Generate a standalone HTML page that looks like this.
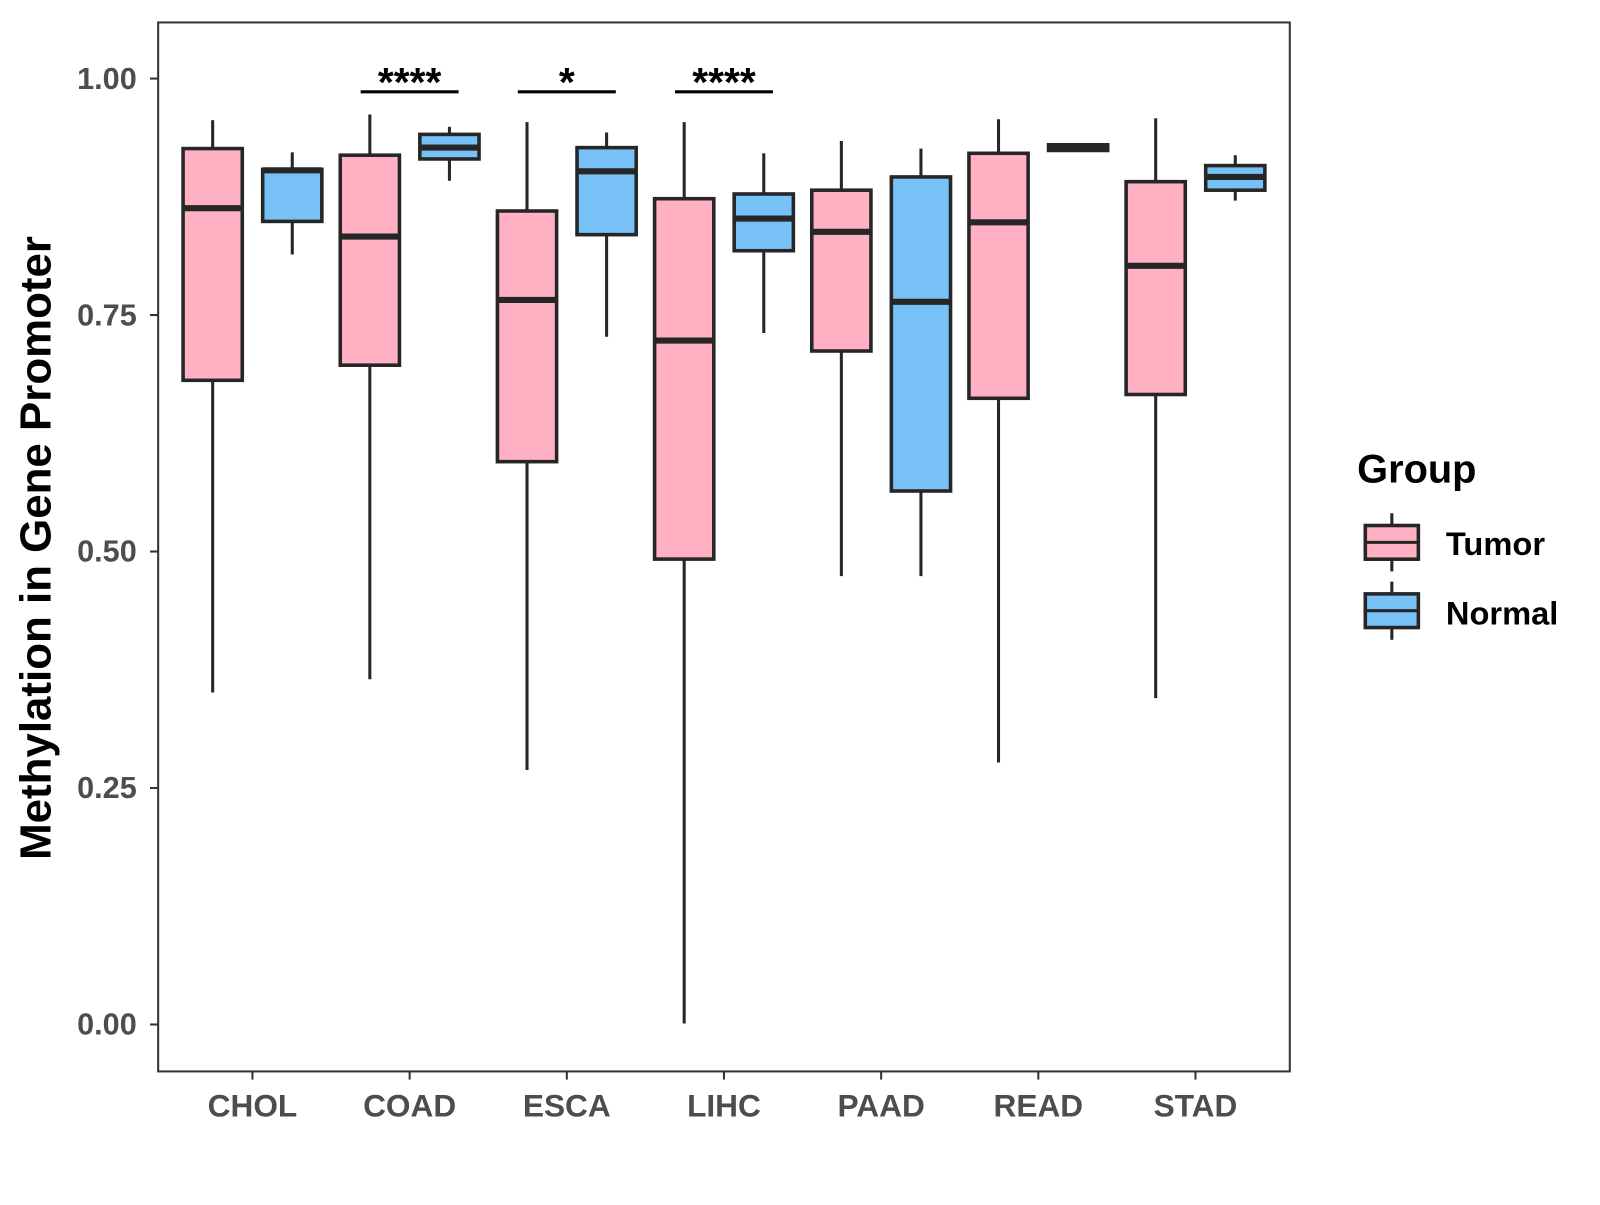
<!DOCTYPE html>
<html><head><meta charset="utf-8"><style>
body{margin:0;background:#fff;}
svg text{font-family:"Liberation Sans",Arial,sans-serif;font-weight:bold;}
</style></head><body>
<svg id="chart" width="1600" height="1200" viewBox="0 0 1568 1176" xmlns="http://www.w3.org/2000/svg">
<rect x="0" y="0" width="1600" height="1200" fill="#fff"/>
<g id="plot"></g>
<text x="38" y="537" transform="rotate(-90 38 537)" text-anchor="middle" font-size="43" dominant-baseline="middle" fill="#000">Methylation in Gene Promoter</text>
<g>
<text x="1330" y="473" font-size="39" fill="#000">Group</text>
<g>
<line x1="1364" y1="503" x2="1364" y2="560" stroke="#262626" stroke-width="3"/>
<rect x="1338" y="515" width="52" height="33" fill="#FFB0C3" stroke="#262626" stroke-width="3.5"/>
<line x1="1338" y1="531.5" x2="1390" y2="531.5" stroke="#262626" stroke-width="3"/>
<text x="1417" y="544" font-size="32" fill="#000">Tumor</text></g>
<g>
<line x1="1364" y1="570" x2="1364" y2="627" stroke="#262626" stroke-width="3"/>
<rect x="1338" y="582" width="52" height="33" fill="#77C1F7" stroke="#262626" stroke-width="3.5"/>
<line x1="1338" y1="598.5" x2="1390" y2="598.5" stroke="#262626" stroke-width="3"/>
<text x="1417" y="612" font-size="32" fill="#000">Normal</text></g>
</g>
</svg>
<script>
const categories=["CHOL","COAD","ESCA","LIHC","PAAD","READ","STAD"];
const tumorMin=[0.351,0.365,0.269,0.001,0.474,0.277,0.345];
const tumorQ1=[0.681,0.697,0.595,0.492,0.712,0.662,0.666];
const tumorMed=[0.863,0.833,0.766,0.723,0.838,0.848,0.802];
const tumorQ3=[0.926,0.919,0.860,0.873,0.882,0.921,0.891];
const tumorMax=[0.956,0.962,0.954,0.954,0.934,0.957,0.958];
const normalMin=[0.814,0.892,0.727,0.731,0.474,0.923,0.871];
const normalQ1=[0.849,0.915,0.835,0.818,0.564,0.924,0.882];
const normalMed=[0.903,0.927,0.902,0.852,0.764,0.927,0.896];
const normalQ3=[0.904,0.941,0.927,0.878,0.896,0.930,0.908];
const normalMax=[0.922,0.949,0.943,0.921,0.926,0.931,0.919];
const yTicks=[0,0.25,0.5,0.75,1.0];
const yTickLabels=["0.00","0.25","0.50","0.75","1.00"];
const sigCats=["COAD","ESCA","LIHC"];
const sigLabels=["****","*","****"];
const sigHeight=[0.986,0.986,0.986];

const NS="http://www.w3.org/2000/svg";
const g=document.getElementById("plot");
const L=155,R=1264,T=22,B=1050;
const y=v=>1004-v*927;
const unit=(R-L)/(categories.length-1+1.2);
const x=i=>L+unit*(0.6+i);
function el(tag,attrs,parent){const e=document.createElementNS(NS,tag);for(const k in attrs)e.setAttribute(k,attrs[k]);(parent||g).appendChild(e);return e;}

const frame=el("rect",{x:L,y:T,width:R-L,height:B-T,fill:"none",stroke:"#333",'stroke-width':2});



yTicks.forEach((v,i)=>{
  const t=el("line",{x1:L-8,x2:L,y1:y(v),y2:y(v),stroke:"#333",'stroke-width':2});
  
  
  const tx=el("text",{x:L-21,y:y(v)+10,'text-anchor':"end",'font-size':30,fill:"#4d4d4d"});
  tx.textContent=yTickLabels[i];
  
  
});
categories.forEach((c,i)=>{
  const t=el("line",{x1:x(i),x2:x(i),y1:B,y2:B+8,stroke:"#333",'stroke-width':2});
  
  
  const tx=el("text",{x:x(i),y:B+44,'text-anchor':"middle",'font-size':31,fill:"#4d4d4d"});
  tx.textContent=c;
  
  
});

const W=58,off=39;
function box(cx,mn,q1,md,q3,mx,fill,name){
  const gg=el("g",{});
  
  
  el("line",{x1:cx,x2:cx,y1:y(mx),y2:y(q3),stroke:"#262626",'stroke-width':3},gg);
  el("line",{x1:cx,x2:cx,y1:y(q1),y2:y(mn),stroke:"#262626",'stroke-width':3},gg);
  el("rect",{x:cx-W/2,y:y(q3),width:W,height:Math.max(y(q1)-y(q3),0.5),fill:fill,stroke:"#262626",'stroke-width':3.5},gg);
  el("line",{x1:cx-W/2,x2:cx+W/2,y1:y(md),y2:y(md),stroke:"#262626",'stroke-width':6},gg);
}
categories.forEach((c,i)=>{
  box(x(i)-off,tumorMin[i],tumorQ1[i],tumorMed[i],tumorQ3[i],tumorMax[i],"#FFB0C3","box-tumor-"+c.toLowerCase());
  box(x(i)+off,normalMin[i],normalQ1[i],normalMed[i],normalQ3[i],normalMax[i],"#77C1F7","box-normal-"+c.toLowerCase());
});
sigCats.forEach((c,k)=>{
  const i=categories.indexOf(c);
  const ln=el("line",{x1:x(i)-48,x2:x(i)+48,y1:y(sigHeight[k]),y2:y(sigHeight[k]),stroke:"#000",'stroke-width':3});
  
  
  const tx=el("text",{x:x(i),y:y(sigHeight[k])+4,'text-anchor':"middle",'font-size':40,fill:"#000"});
  tx.textContent=sigLabels[k];
  
  
});
</script>
</body></html>
